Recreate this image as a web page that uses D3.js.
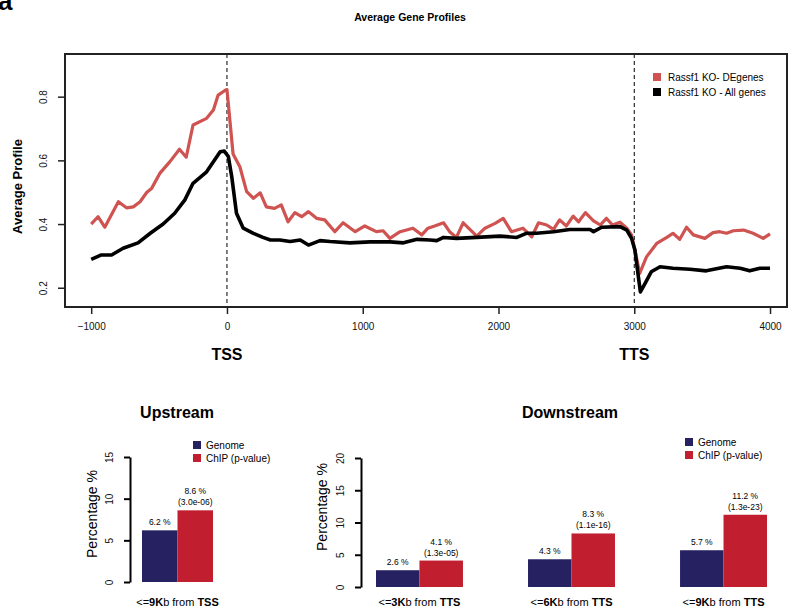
<!DOCTYPE html>
<html lang="en">
<head>
<meta charset="UTF-8">
<title>Average Gene Profiles</title>
<script src="https://d3js.org/d3.v7.min.js"></script>
<style>
    body { margin: 0; background: #fff; font-family: "Liberation Sans", Arial, sans-serif; }
    svg { display: block; }
    .tick text { font-size: 10px; fill: #111; }
    .bold { font-weight: bold; }
</style>
</head>
<body>
<svg width="794" height="608"></svg>
<script>
// ---- profile data (position relative to TSS, average profile) ----
const redPos = [-1000, -950, -900, -800, -740, -690, -640, -590, -555, -495, -420, -350, -300, -250, -150, -100, -65, -10, 0,
    45, 95, 145, 195, 245, 290, 350, 400, 450, 500, 550, 600, 660, 720, 795, 855, 945, 1015, 1100, 1150, 1200, 1275, 1370, 1435,
    1480, 1530, 1595, 1640, 1690, 1740, 1840, 1900, 1975, 2035, 2095, 2180, 2245, 2295, 2355, 2405, 2450, 2500, 2550, 2590,
    2640, 2700, 2750, 2795, 2840, 2895, 2945, 2980, 3005, 3040, 3090, 3165, 3240, 3285, 3335, 3385, 3435, 3520, 3580, 3630,
    3680, 3730, 3805, 3875, 3950, 4000];
const redVal = [0.40, 0.423, 0.39, 0.47, 0.451, 0.454, 0.47, 0.50, 0.512, 0.559, 0.596, 0.635, 0.61, 0.711, 0.732, 0.758, 0.805, 0.821, 0.822,
    0.62, 0.58, 0.502, 0.481, 0.498, 0.454, 0.449, 0.46, 0.407, 0.436, 0.423, 0.439, 0.418, 0.413, 0.376, 0.404, 0.376, 0.394, 0.376, 0.379, 0.355, 0.376, 0.387, 0.366,
    0.387, 0.394, 0.404, 0.376, 0.358, 0.404, 0.362, 0.387, 0.402, 0.418, 0.376, 0.387, 0.36, 0.404, 0.397, 0.383, 0.413, 0.394, 0.425, 0.407,
    0.436, 0.41, 0.397, 0.418, 0.397, 0.406, 0.387, 0.366, 0.318, 0.245, 0.297, 0.339, 0.358, 0.371, 0.352, 0.39, 0.366, 0.355, 0.373, 0.376,
    0.371, 0.379, 0.381, 0.371, 0.355, 0.369];
const blackPos = [-1000, -925, -850, -765, -655, -565, -470, -385, -310, -250, -150, -50, -20, 10, 35, 70, 120, 195, 265, 320, 390,
    465, 540, 600, 685, 760, 905, 1055, 1200, 1300, 1400, 1495, 1545, 1595, 1690, 1840, 2010, 2135, 2205, 2280, 2405, 2525, 2600,
    2675, 2700, 2760, 2895, 2945, 2980, 3005, 3030, 3045, 3080, 3125, 3190, 3285, 3410, 3530, 3680, 3780, 3850, 3925, 4000];
const blackVal = [0.289, 0.303, 0.303, 0.324, 0.341, 0.371, 0.40, 0.434, 0.476, 0.528, 0.564, 0.627, 0.629, 0.612, 0.549, 0.434, 0.387, 0.371, 0.358, 0.35, 0.35,
    0.345, 0.35, 0.334, 0.348, 0.345, 0.341, 0.344, 0.344, 0.341, 0.352, 0.35, 0.348, 0.358, 0.355, 0.358, 0.362, 0.358, 0.371, 0.371, 0.376, 0.383, 0.383,
    0.383, 0.376, 0.39, 0.392, 0.381, 0.355, 0.318, 0.235, 0.187, 0.214, 0.25, 0.266, 0.261, 0.258, 0.253, 0.266, 0.261, 0.253, 0.261, 0.261];
const profileNames = ["Rassf1 KO- DEgenes", "Rassf1 KO -  All genes"];
const profileColors = ["#cf5350", "#000000"];
const xTicks = [-1000, 0, 1000, 2000, 3000, 4000];
const yTicks = [0.2, 0.4, 0.6, 0.8];
const markers = [{ pos: 0, label: "TSS" }, { pos: 3000, label: "TTS" }];

// ---- bar data ----
const series = ["Genome", "ChIP (p-value)"];
const barColors = ["#262262", "#c11f2f"];
const upCats = ["9"];
const upGenome = [6.2];
const upChip = [8.6];
const upPval = ["3.0e-06"];
const downCats = ["3", "6", "9"];
const downGenome = [2.6, 4.3, 5.7];
const downChip = [4.1, 8.3, 11.2];
const downPval = ["1.3e-05", "1.1e-16", "1.3e-23"];

const svg = d3.select("svg");

// panel letter + title
svg.append("text").attr("x", -2).attr("y", 10).attr("class", "bold")
    .style("font-size", "26px").text("a");
svg.append("text").attr("x", 410).attr("y", 21).attr("class", "bold")
    .style("font-size", "10.5px").style("text-anchor", "middle").text("Average Gene Profiles");

// ================= profile plot =================
const pr = { left: 65, right: 787, top: 54, bottom: 307 };
const x = d3.scaleLinear().domain([-1193, 4125]).range([pr.left, pr.right]);
const y = d3.scaleLinear().domain([0.1395, 0.934]).range([pr.bottom, pr.top]);

const gx = svg.append("g").attr("transform", `translate(0,${pr.bottom})`)
    .call(d3.axisBottom(x).tickValues(xTicks).tickFormat(d3.format("d")).tickSize(7).tickPadding(9));
gx.select(".domain").remove();
gx.selectAll(".tick line").attr("stroke", "#222").attr("stroke-width", 1.5);

const gy = svg.append("g").attr("transform", `translate(${pr.left},0)`)
    .call(d3.axisLeft(y).tickValues(yTicks).tickSize(7));
gy.select(".domain").remove();
gy.selectAll(".tick line").attr("stroke", "#222").attr("stroke-width", 1.5);
gy.selectAll(".tick text").attr("x", 0).attr("dy", 0)
    .attr("transform", "translate(-18,0) rotate(-90)").style("text-anchor", "middle");

svg.append("text").attr("class", "bold").style("font-size", "13px")
    .attr("transform", `translate(22,${(pr.top + pr.bottom) / 2 + 6}) rotate(-90)`)
    .style("text-anchor", "middle").text("Average Profile");

// TSS / TTS dashed lines and labels
markers.forEach(m => {
    svg.append("line").attr("x1", x(m.pos)).attr("x2", x(m.pos))
        .attr("y1", pr.top).attr("y2", pr.bottom)
        .attr("stroke", "#000").attr("stroke-width", 1).attr("stroke-dasharray", "4,3");
    svg.append("text").attr("class", "bold").style("font-size", "16px")
        .attr("x", x(m.pos)).attr("y", 360).style("text-anchor", "middle").text(m.label);
});

const line = d3.line().x(d => x(d[0])).y(d => y(d[1]));
const redData = redPos.map((p, i) => [p, redVal[i]]);
const blackData = blackPos.map((p, i) => [p, blackVal[i]]);

svg.append("path").datum(redData).attr("d", line).attr("fill", "none")
    .attr("stroke", profileColors[0]).attr("stroke-width", 3.2).attr("stroke-linejoin", "round");
svg.append("path").datum(blackData).attr("d", line).attr("fill", "none")
    .attr("stroke", profileColors[1]).attr("stroke-width", 3.6).attr("stroke-linejoin", "round");

// box
svg.append("rect").attr("x", pr.left).attr("y", pr.top)
    .attr("width", pr.right - pr.left).attr("height", pr.bottom - pr.top)
    .attr("fill", "none").attr("stroke", "#222").attr("stroke-width", 2);

// legend
profileNames.forEach((n, i) => {
    svg.append("rect").attr("x", 653).attr("y", 73 + i * 15).attr("width", 8).attr("height", 8)
        .attr("fill", profileColors[i]);
    svg.append("text").attr("x", 668).attr("y", 81 + i * 15).style("font-size", "10px").text(n);
});

// ================= bar plots =================
function barPanel(opt) {
    const yS = d3.scaleLinear().domain([0, opt.max]).range([opt.y0, opt.yTop]);
    const gS = d3.scaleBand().domain(opt.cats).range(opt.xRange).paddingInner(opt.pad).paddingOuter(0);
    const sS = d3.scaleBand().domain(series).range([0, gS.bandwidth()]);

    const ga = svg.append("g").attr("transform", `translate(${opt.axisX},0)`)
        .call(d3.axisLeft(yS).tickValues(d3.range(0, opt.max + 1, 5)).tickSize(6).tickSizeOuter(0));
    ga.select(".domain").attr("stroke", "#000").attr("stroke-width", 2);
    ga.selectAll(".tick line").attr("stroke", "#000").attr("stroke-width", 2);
    ga.selectAll(".tick text").attr("x", 0).attr("dy", 0)
        .attr("transform", "translate(-17,0) rotate(-90)").style("text-anchor", "middle");

    svg.append("text").style("font-size", "14px")
        .attr("transform", `translate(${opt.labelX},${opt.labelY}) rotate(-90)`)
        .style("text-anchor", "middle").text("Percentage %");

    svg.append("text").attr("class", "bold").style("font-size", "16px")
        .attr("x", opt.titleX).attr("y", 418).style("text-anchor", "middle").text(opt.title);

    opt.cats.forEach((c, i) => {
        const vals = [opt.genome[i], opt.chip[i]];
        const gx0 = gS(c);
        vals.forEach((v, j) => {
            svg.append("rect").attr("x", gx0 + sS(series[j])).attr("width", sS.bandwidth())
                .attr("y", yS(v)).attr("height", yS(0) - yS(v)).attr("fill", barColors[j]);
        });
        const gxc = gx0 + sS(series[0]) + sS.bandwidth() / 2;
        const cxc = gx0 + sS(series[1]) + sS.bandwidth() / 2;
        svg.append("text").attr("x", gxc).attr("y", yS(vals[0]) - 5).style("font-size", "8.5px")
            .style("text-anchor", "middle").text(`${vals[0]} %`);
        svg.append("text").attr("x", cxc).attr("y", yS(vals[1]) - 16).style("font-size", "8.5px")
            .style("text-anchor", "middle").text(`${vals[1]} %`);
        svg.append("text").attr("x", cxc).attr("y", yS(vals[1]) - 5).style("font-size", "8.5px")
            .style("text-anchor", "middle").text(`(${opt.pval[i]})`);

        const t = svg.append("text").attr("x", gx0 + gS.bandwidth() / 2).attr("y", 606)
            .style("font-size", "11px").style("text-anchor", "middle");
        t.append("tspan").text("<=");
        t.append("tspan").attr("class", "bold").text(`${c}K`);
        t.append("tspan").text("b from ");
        t.append("tspan").attr("class", "bold").text(opt.ref);
    });

    series.forEach((s, j) => {
        svg.append("rect").attr("x", opt.legX).attr("y", opt.legY + j * 13).attr("width", 8).attr("height", 8)
            .attr("fill", barColors[j]);
        svg.append("text").attr("x", opt.legX + 13).attr("y", opt.legY + 8 + j * 13)
            .style("font-size", "10px").text(s);
    });
}

barPanel({
    cats: upCats, genome: upGenome, chip: upChip, pval: upPval, ref: "TSS",
    max: 15, y0: 582, yTop: 457, axisX: 130, xRange: [142, 213], pad: 0,
    labelX: 97, labelY: 514, title: "Upstream", titleX: 177, legX: 193, legY: 441
});
barPanel({
    cats: downCats, genome: downGenome, chip: downChip, pval: downPval, ref: "TTS",
    max: 20, y0: 587, yTop: 458, axisX: 361, xRange: [376, 767], pad: 0.428,
    labelX: 327, labelY: 507, title: "Downstream", titleX: 570, legX: 685, legY: 438
});
</script>
</body>
</html>
